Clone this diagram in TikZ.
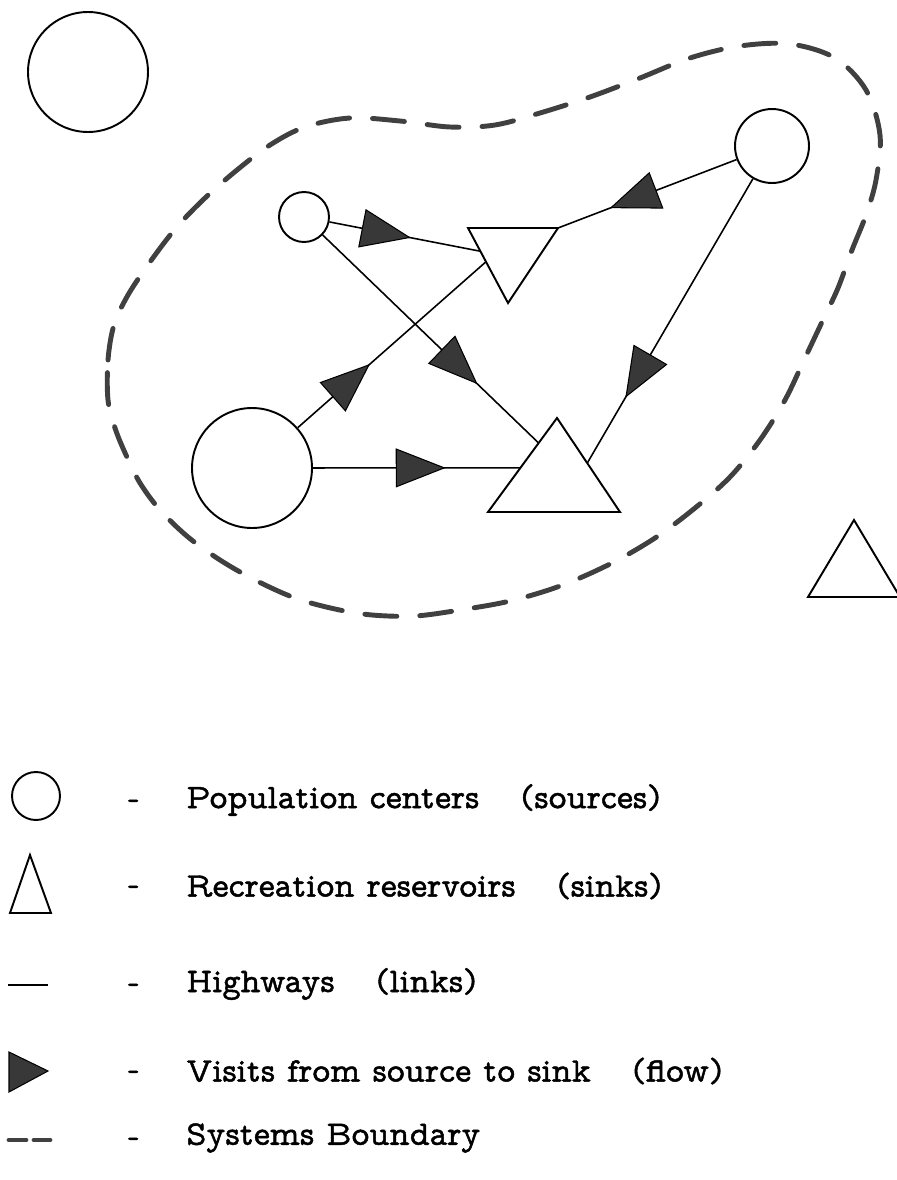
\documentclass[tikz,border=0pt]{standalone}
\usepackage{fontspec}
\usetikzlibrary{arrows.meta,decorations.markings,calc}
\newfontfamily\legfontface{lmmonoprop10-regular.otf}[FakeBold=1.4]
\definecolor{flowgray}{gray}{0.22}
\definecolor{bndgray}{gray}{0.25}
\newcommand{\legfont}{\legfontface\fontsize{19.6}{21}\selectfont}
\newcommand{\gapp}{\hspace{0.82cm}}
\begin{document}
\begin{tikzpicture}[x=0.02cm,y=-0.02cm,
  place/.style={circle, draw, line width=1.1pt, inner sep=0pt, minimum size=#1},
  sink/.style={draw, line width=1.1pt, line join=miter},
  road/.style={line width=0.9pt},
  flowarrow/.style={postaction={decorate}, decoration={markings,
      mark=at position #1 with {\arrow{Triangle[length=1cm,width=0.78cm,fill=flowgray,line width=0.6pt]}}}},
  boundary/.style={line width=2.8pt, draw=bndgray, line cap=round, dash pattern=on 0.64cm off 0.46cm},
  legtext/.style={anchor=west, inner sep=0pt, font=\legfont},
  legdash/.style={anchor=center, inner sep=0pt, font=\legfont}]
\useasboundingbox (0,0) rectangle (896,1180);

% ---------- sources (circles) ----------
\node[place=2.4cm]  (C0) at (88,72)   {};
\node[place=1.0cm]  (S1) at (304,217) {};
\node[place=2.4cm]  (B1) at (252,468) {};
\node[place=1.48cm] (C2) at (772,146) {};

% ---------- sinks (triangles) ----------
\coordinate (T1l) at (468,228);
\coordinate (T1r) at (558,228);
\coordinate (T1b) at (508,303);
\draw[sink] (T1l) -- (T1r) -- (T1b) -- cycle;

\coordinate (T2a) at (557,418);
\coordinate (T2l) at (488,512);
\coordinate (T2r) at (620,512);
\draw[sink] (T2a) -- (T2r) -- (T2l) -- cycle;

\coordinate (T3a) at (854,520);
\coordinate (T3l) at (808,597);
\coordinate (T3r) at (900,597);
\draw[sink] (T3a) -- (T3r) -- (T3l) -- cycle;

% ---------- connector end points on the triangles ----------
\coordinate (E1) at ($(T1l)!0.31!(T1b)$);
\coordinate (E3) at ($(T1l)!0.45!(T1b)$);
\coordinate (E2) at ($(T2a)!0.266!(T2l)$);
\coordinate (E4) at ($(T2a)!0.53!(T2l)$);
\coordinate (E6) at ($(T2a)!0.48!(T2r)$);

% ---------- highways with flows ----------
\draw[road, flowarrow=0.54]  (S1) -- (E1);
\draw[road, flowarrow=0.717] (S1) -- (E2);
\draw[road, flowarrow=0.384] (B1) -- (E3);
\draw[road, flowarrow=0.64]  (B1) -- (E4);
\draw[road, flowarrow=0.71]  (C2) -- (T1r);
\draw[road, flowarrow=0.77]  (C2) -- (E6);

% ---------- systems boundary ----------
\draw[boundary] plot[smooth cycle, tension=0.55] coordinates {
 (108,400) (108,360) (114,325) (128,295) (150,262) (176,228) (205,198)
 (237,170) (270,145) (305,127) (350,118) (400,121) (450,127) (495,125)
 (540,113) (590,97) (640,78) (690,58) (740,46) (790,44) (835,58)
 (866,90) (880,135) (876,180) (866,215) (852,250) (838,288) (822,322)
 (805,358) (785,400) (760,440) (730,477) (695,508) (655,538) (610,564)
 (560,586) (510,601) (460,610) (415,616) (372,615) (335,609) (295,598)
 (255,580) (220,560) (188,537) (160,510) (140,483) (126,455) (115,428)};

% ---------- legend ----------
\node[place=0.96cm] (LC) at (36,796) {};
\coordinate (LTa) at (30,855);
\coordinate (LTl) at (10,913);
\coordinate (LTr) at (51,913);
\draw[sink] (LTa) -- (LTr) -- (LTl) -- cycle;
\coordinate (LHa) at (8,985);
\coordinate (LHb) at (48,985);
\draw[road] (LHa) -- (LHb);
\coordinate (LFa) at (9,1052);
\coordinate (LFb) at (9,1092);
\coordinate (LFt) at (48,1071);
\fill[flowgray, draw=black, line width=0.6pt] (LFa) -- (LFt) -- (LFb) -- cycle;
\coordinate (LBa) at (9,1140);
\coordinate (LBb) at (26,1140);
\coordinate (LBc) at (34,1140);
\coordinate (LBd) at (50,1140);
\draw[boundary, dash pattern=] (LBa) -- (LBb) (LBc) -- (LBd);

\node[legdash] (D1) at (134,804)  {-};
\node[legdash] (D2) at (134,890)  {-};
\node[legdash] (D3) at (134,988)  {-};
\node[legdash] (D4) at (134,1075) {-};
\node[legdash] (D5) at (134,1142) {-};

\node[legtext] (P1) at (186,800)  {Population centers\gapp(sources)};
\node[legtext] (R1) at (186,886)  {Recreation reservoirs\gapp(sinks)};
\node[legtext] (H1) at (186,984)  {Highways\gapp(links)};
\node[legtext] (V1) at (186,1071) {Visits from source to sink\gapp(flow)};
\node[legtext] (SB) at (186,1138) {Systems Boundary};
\end{tikzpicture}
\end{document}
